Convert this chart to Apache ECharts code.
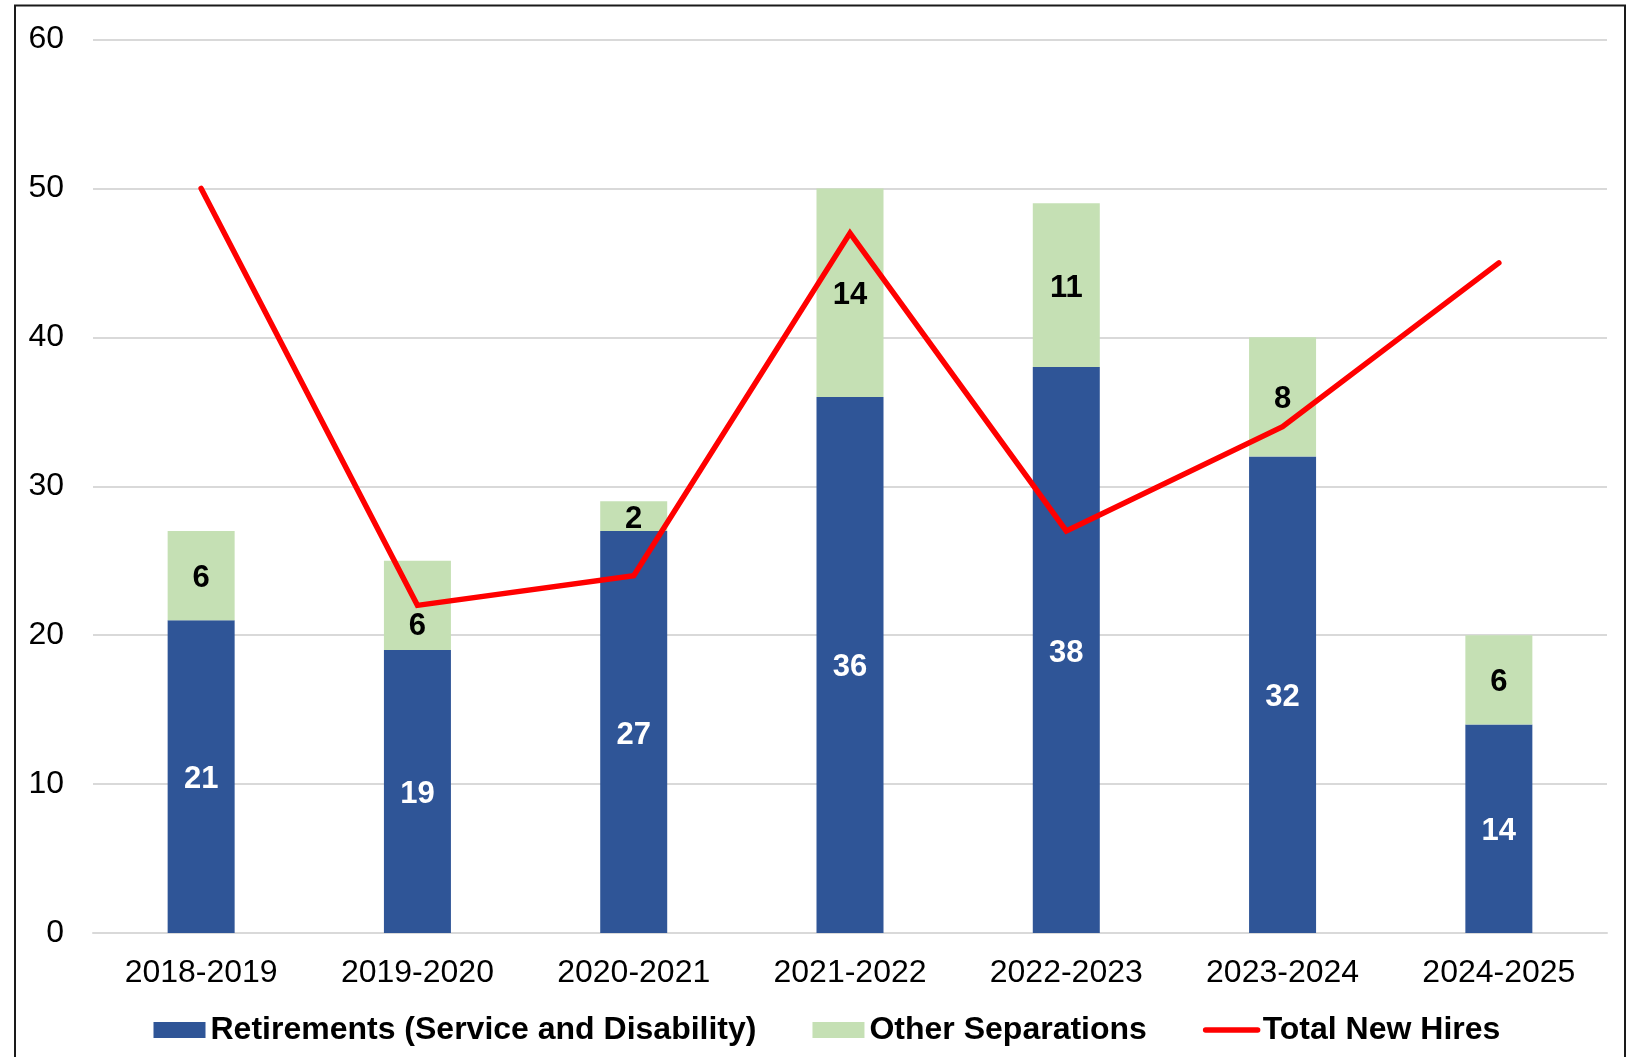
<!DOCTYPE html>
<html>
<head>
<meta charset="utf-8">
<script src="https://cdn.jsdelivr.net/npm/echarts@6/dist/echarts.min.js"></script>
<style>
  html, body { margin: 0; padding: 0; background: #fff; }
  #chatMain { width: 1627px; height: 1057px; }
</style>
</head>
<body>
<div id="chatMain"></div>
<script>
// data
const years = ['2018-2019', '2019-2020', '2020-2021', '2021-2022', '2022-2023', '2023-2024', '2024-2025'];
const retirements = [21, 19, 27, 36, 38, 32, 14];
const otherSeparations = [6, 6, 2, 14, 11, 8, 6];
const newHires = [50, 22, 24, 47, 27, 34, 45];

const fontFamily = '"Liberation Sans", Arial, sans-serif';

// the green label of 2019-2020 sits lower so the red line does not cover it
const otherData = otherSeparations.map((v, i) => i === 1
  ? { value: v, label: { offset: [0, 21] } }
  : v);

const myechart = echarts.init(document.getElementById('chatMain'));
const option = {
  animation: false,
  textStyle: { fontFamily: fontFamily },
  // outer frame of the picture
  graphic: [{
    type: 'rect',
    shape: { x: 15, y: 5.5, width: 1610, height: 1200 },
    style: { fill: 'none', stroke: '#1a1a1a', lineWidth: 2 },
    silent: true
  }],
  grid: {
    left: 93,
    right: 20,
    top: 39.5,
    bottom: 124
  },
  legend: {
    left: 148.5,
    top: 1009,
    itemWidth: 52,
    itemHeight: 16,
    itemGap: 56,
    textStyle: {
      fontFamily: fontFamily,
      fontSize: 32,
      fontWeight: 'bold',
      color: '#000'
    },
    data: [
      { name: 'Retirements (Service and Disability)', icon: 'rect' },
      { name: 'Other Separations', icon: 'rect' },
      {
        name: 'Total New Hires',
        itemStyle: { opacity: 0 },
        lineStyle: { width: 5.5, color: '#FF0000', cap: 'round' }
      }
    ]
  },
  xAxis: {
    type: 'category',
    data: years,
    axisTick: { show: false },
    axisLine: { lineStyle: { color: '#d9d9d9', width: 2 } },
    axisLabel: {
      color: '#000',
      fontSize: 32,
      margin: 24
    }
  },
  yAxis: {
    type: 'value',
    min: 0,
    max: 60,
    interval: 10,
    axisTick: { show: false },
    axisLine: { show: false },
    axisLabel: {
      color: '#000',
      fontSize: 32,
      margin: 29,
      padding: [5, 0, 0, 0]
    },
    splitLine: { lineStyle: { color: '#d9d9d9', width: 2 } }
  },
  series: [
    {
      name: 'Retirements (Service and Disability)',
      type: 'bar',
      stack: 'sep',
      barWidth: 67,
      data: retirements,
      itemStyle: { color: '#2F5597' },
      label: {
        show: true,
        position: 'inside',
        offset: [0, 3],
        color: '#fff',
        fontSize: 31,
        fontWeight: 'bold',
        fontFamily: fontFamily
      }
    },
    {
      name: 'Other Separations',
      type: 'bar',
      stack: 'sep',
      barWidth: 67,
      data: otherData,
      itemStyle: { color: '#C5E0B4' },
      label: {
        show: true,
        position: 'inside',
        offset: [0, 3],
        color: '#000',
        fontSize: 31,
        fontWeight: 'bold',
        fontFamily: fontFamily
      }
    },
    {
      name: 'Total New Hires',
      type: 'line',
      data: newHires,
      symbol: 'none',
      z: 5,
      itemStyle: { color: '#FF0000' },
      lineStyle: { color: '#FF0000', width: 5.5, cap: 'round', join: 'miter' }
    }
  ]
};
myechart.setOption(option);
</script>
</body>
</html>
